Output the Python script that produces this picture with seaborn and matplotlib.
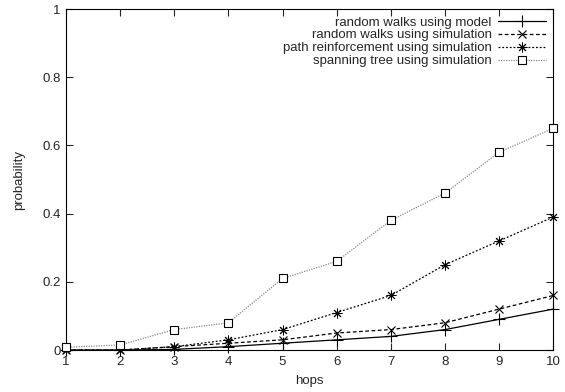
import matplotlib
matplotlib.use('Agg')
import matplotlib.pyplot as plt
import seaborn as sns

# data
hops = [1, 2, 3, 4, 5, 6, 7, 8, 9, 10]
rw_model = [0.0, 0.0, 0.002, 0.01, 0.02, 0.03, 0.04, 0.06, 0.09, 0.12]
rw_sim = [0.0, 0.0, 0.01, 0.02, 0.03, 0.05, 0.06, 0.08, 0.12, 0.16]
path_sim = [0.0, 0.0, 0.01, 0.03, 0.06, 0.11, 0.16, 0.25, 0.32, 0.39]
tree_sim = [0.008, 0.015, 0.06, 0.08, 0.21, 0.26, 0.38, 0.46, 0.58, 0.65]

labels = ['random walks using model', 'random walks using simulation',
          'path reinforcement using simulation', 'spanning tree using simulation']

sns.set_style('ticks')
plt.rcParams['font.family'] = ['Liberation Sans', 'DejaVu Sans']

fig = plt.figure(figsize=(5.65, 3.92), dpi=100)
ax = fig.add_axes([0.117, 0.107, 0.862, 0.870])

# gnuplot-ish line styles
styles = [
    dict(color='black', linestyle='-', marker='+', ms=8, mew=0.8, mec='black'),
    dict(color='black', linestyle=(0, (3, 2)), marker='x', ms=6, mew=0.8, mec='black'),
    dict(color='black', linestyle=(0, (1.5, 1.5)), marker=(8, 2, 0), ms=7, mew=0.7,
         mec='black'),
    dict(color='#888888', linestyle=(0, (1, 1)), marker='s', ms=6, mew=0.8,
         mfc='white', mec='black'),
]
series = [rw_model, rw_sim, path_sim, tree_sim]

for vals, lab, st in zip(series, labels, styles):
    sns.lineplot(x=hops, y=vals, ax=ax, label=lab, lw=0.9, clip_on=False,
                 zorder=3, **st)

ax.set_xlim(1, 10)
ax.set_ylim(0, 1)
ax.set_xticks(hops)
ax.set_yticks([0, 0.2, 0.4, 0.6, 0.8, 1.0])
ax.set_yticklabels(['0', '0.2', '0.4', '0.6', '0.8', '1'])
ax.tick_params(direction='in', top=True, right=True, length=5, width=0.8,
               labelsize=9.5, pad=4)
for sp in ax.spines.values():
    sp.set_linewidth(0.8)
    sp.set_color('black')

ax.set_xlabel('hops', fontsize=9.5, labelpad=5)
ax.set_ylabel('probability', fontsize=9.5, labelpad=12)

leg = ax.legend(loc='upper right', frameon=False, markerfirst=False, fontsize=9.5,
                handlelength=3.6, handletextpad=0.5, labelspacing=0.05,
                borderaxespad=0.15)

fig.savefig('out.png', dpi=100)
